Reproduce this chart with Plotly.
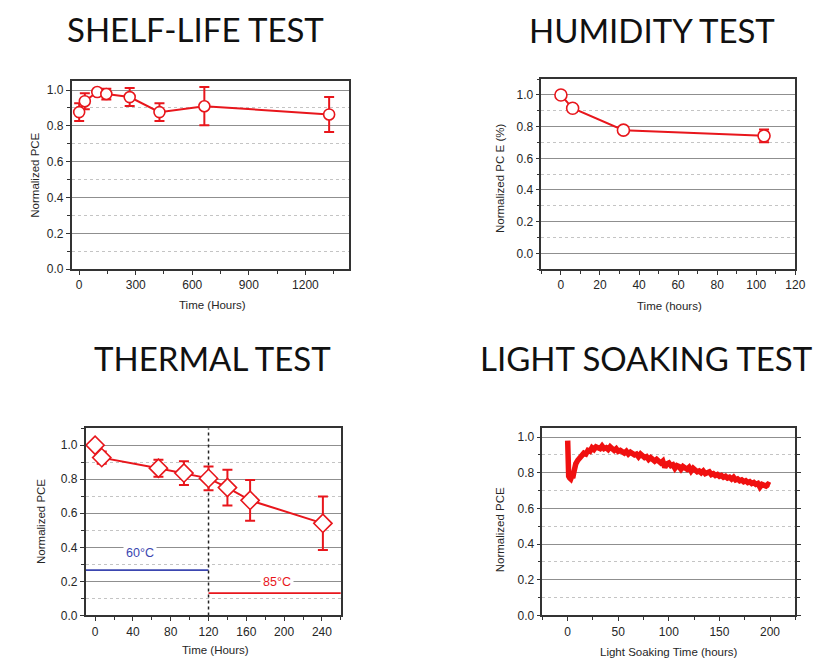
import plotly.graph_objects as go

RED = "#e8161c"
BLUE = "#3b46b0"
W, H = 830, 666

# ---- Shelf-life test ----
shelf_t = [0, 30, 96, 144, 268, 426, 664, 1326]
shelf_pce = [0.877, 0.938, 0.989, 0.978, 0.961, 0.877, 0.910, 0.864]
shelf_err = [0.050, 0.045, 0.012, 0.030, 0.050, 0.050, 0.107, 0.098]

# ---- Humidity test ----
hum_t = [0, 6, 32, 104]
hum_pce = [1.0, 0.916, 0.778, 0.742]
hum_err = [0.0, 0.020, 0.020, 0.040]

# ---- Thermal test ----
therm_t = [0, 7, 67, 94, 120, 140, 164, 241]
therm_pce = [1.0, 0.927, 0.865, 0.836, 0.805, 0.751, 0.676, 0.541]
therm_err = [0.012, 0.036, 0.050, 0.070, 0.070, 0.105, 0.120, 0.157]
therm_switch = 120          # hours at which the oven goes from 60 to 85 degC
zone60_x = [-10, 120]
zone60_y = [0.266, 0.266]
zone85_x = [120, 260]
zone85_y = [0.131, 0.131]

# ---- Light soaking test ----
soak_t = [0, 0.3, 1, 2, 3, 4, 5, 6, 7, 8, 10, 12, 14, 16, 18, 20, 22, 24, 26, 28,
          30, 32, 34, 36, 38, 40, 42, 44, 46, 48, 50, 52, 54, 56, 58, 60, 62, 64,
          66, 68, 70, 72, 74, 76, 78, 80, 82, 84, 86, 88, 90, 92, 94, 96, 98, 100,
          102, 104, 106, 108, 110, 112, 114, 116, 118, 120, 122, 124, 126, 128,
          130, 132, 134, 136, 138, 140, 142, 144, 146, 148, 150, 152, 154, 156,
          158, 160, 162, 164, 166, 168, 170, 172, 174, 176, 178, 180, 182, 184,
          186, 188, 190, 192, 194, 196, 198, 200]
soak_pce = [0.98, 0.80, 0.78, 0.77, 0.765, 0.78, 0.77, 0.80, 0.83, 0.85,
            0.87, 0.885, 0.89, 0.91, 0.905, 0.925, 0.92, 0.94, 0.93, 0.945,
            0.94, 0.935, 0.95, 0.935, 0.94, 0.93, 0.945, 0.93, 0.925, 0.935,
            0.92, 0.925, 0.92, 0.91, 0.92, 0.905, 0.915, 0.91, 0.90, 0.905,
            0.89, 0.905, 0.895, 0.885, 0.89, 0.875, 0.885, 0.87, 0.865, 0.875,
            0.86, 0.855, 0.865, 0.83, 0.85, 0.855, 0.84, 0.845, 0.825, 0.84,
            0.835, 0.82, 0.835, 0.825, 0.82, 0.83, 0.81, 0.825, 0.815, 0.805,
            0.81, 0.80, 0.81, 0.795, 0.80, 0.805, 0.79, 0.795, 0.785, 0.79,
            0.78, 0.785, 0.775, 0.78, 0.77, 0.775, 0.765, 0.775, 0.76, 0.765,
            0.755, 0.76, 0.75, 0.755, 0.745, 0.75, 0.74, 0.745, 0.735, 0.74,
            0.72, 0.735, 0.73, 0.725, 0.735, 0.73]

PCE_TICKS = [0.0, 0.2, 0.4, 0.6, 0.8, 1.0]


def dom_x(left, right):
    return [left / W, right / W]


def dom_y(top, bottom):
    return [1 - bottom / H, 1 - top / H]


AX_FONT = dict(family="Liberation Sans, Arial, sans-serif", size=12, color="#262626")


def x_axis(domain, rng, dtick, anchor):
    return dict(domain=domain, range=rng, dtick=dtick, tick0=0, anchor=anchor,
                showgrid=False, zeroline=False, showline=True, mirror=True,
                linecolor="#333", linewidth=1.5, ticks="outside", ticklen=4,
                tickcolor="#333", tickwidth=1.2, tickfont=AX_FONT,
                minor=dict(dtick=dtick / 2, tick0=0, ticks="outside", ticklen=3,
                           tickcolor="#333", tickwidth=1.2, showgrid=False))


def y_axis(domain, rng, anchor, mirror=True):
    return dict(domain=domain, range=rng, tickvals=PCE_TICKS, tickformat=".1f",
                anchor=anchor, showgrid=True, gridcolor="#8f8f8f", gridwidth=1.2,
                zeroline=False, showline=True, mirror=mirror, linecolor="#333",
                linewidth=1.5, ticks="outside", ticklen=4, tickcolor="#333",
                tickwidth=1.2, tickfont=AX_FONT,
                minor=dict(dtick=0.1, tick0=0, ticks="outside", ticklen=3,
                           tickcolor="#333", tickwidth=1.2, showgrid=True,
                           gridcolor="#c4c4c4", griddash="dot", gridwidth=1.2))


fig = go.Figure()

err_style = dict(type="data", color=RED, thickness=2, width=5)

fig.add_trace(go.Scatter(
    x=shelf_t, y=shelf_pce, mode="lines+markers", xaxis="x", yaxis="y",
    line=dict(color=RED, width=2),
    marker=dict(symbol="circle", size=11, color="white", line=dict(color=RED, width=1.6)),
    error_y=dict(array=shelf_err, **err_style)))

fig.add_trace(go.Scatter(
    x=hum_t, y=hum_pce, mode="lines+markers", xaxis="x2", yaxis="y2",
    line=dict(color=RED, width=2),
    marker=dict(symbol="circle", size=12, color="white", line=dict(color=RED, width=1.6)),
    error_y=dict(array=hum_err, **err_style)))

# thermal zones
fig.add_trace(go.Scatter(x=zone60_x, y=zone60_y, mode="lines", xaxis="x3", yaxis="y3",
                         line=dict(color=BLUE, width=1.6), hoverinfo="skip"))
fig.add_trace(go.Scatter(x=zone85_x, y=zone85_y, mode="lines", xaxis="x3", yaxis="y3",
                         line=dict(color=RED, width=1.6), hoverinfo="skip"))
fig.add_trace(go.Scatter(x=[therm_switch, therm_switch], y=[0, 1.1], mode="lines",
                         xaxis="x3", yaxis="y3",
                         line=dict(color="#222", width=1.5, dash="dot"), hoverinfo="skip"))

fig.add_trace(go.Scatter(
    x=therm_t, y=therm_pce, mode="lines+markers", xaxis="x3", yaxis="y3",
    line=dict(color=RED, width=2),
    marker=dict(symbol="diamond", size=14, color="white", line=dict(color=RED, width=1.6)),
    error_y=dict(array=therm_err, **err_style)))

fig.add_trace(go.Scatter(
    x=soak_t, y=soak_pce, mode="lines", xaxis="x4", yaxis="y4",
    line=dict(color="#f01010", width=5.5)))

fig.update_layout(
    width=W, height=H, margin=dict(l=0, r=0, t=0, b=0),
    paper_bgcolor="white", plot_bgcolor="white", showlegend=False,
    xaxis=x_axis(dom_x(72.5, 353), [-40, 1430], 300, "y"),
    yaxis=y_axis(dom_y(82, 272), [0, 1.05], "x"),
    xaxis2=x_axis(dom_x(548, 805), [-10, 120], 20, "y2"),
    yaxis2=y_axis(dom_y(80, 272), [-0.1, 1.1], "x2"),
    xaxis3=x_axis(dom_x(86.7, 345), [-10, 260], 40, "y3"),
    yaxis3=y_axis(dom_y(432.7, 622), [0, 1.1], "x3"),
    xaxis4=x_axis(dom_x(549, 805), [-25, 225], 50, "y4"),
    yaxis4=y_axis(dom_y(432.7, 622), [0, 1.05], "x4", mirror="allticks"),
)

TITLE_FONT = dict(family="Lato, Open Sans, sans-serif", size=33, color="#111")
LABEL_FONT = dict(family="Liberation Sans, Arial, sans-serif", size=11.5, color="#262626")

notes = [
    ("SHELF-LIFE TEST", 198, 29, TITLE_FONT, 0),
    ("HUMIDITY TEST", 660, 30, TITLE_FONT, 0),
    ("THERMAL TEST", 215, 362, TITLE_FONT, 0),
    ("LIGHT SOAKING TEST", 654, 362, TITLE_FONT, 0),
    ("Time (Hours)", 215, 308, LABEL_FONT, 0),
    ("Normalized PCE", 36, 177, LABEL_FONT, -90),
    ("Time (hours)", 678, 309, LABEL_FONT, 0),
    ("Normalized PC E (%)", 506, 180, LABEL_FONT, -90),
    ("Time (Hours)", 218, 657, LABEL_FONT, 0),
    ("Normalized PCE", 42, 527, LABEL_FONT, -90),
    ("Light Soaking Time (hours)", 677, 659, LABEL_FONT, 0),
    ("Normalized PCE", 506, 535, LABEL_FONT, -90),
]
for text, px, py, font, ang in notes:
    fig.add_annotation(text=text, x=px / W, y=1 - py / H, xref="paper", yref="paper",
                       showarrow=False, font=font, textangle=ang,
                       xanchor="center", yanchor="middle")

fig.add_annotation(text="60°C", x=48, y=0.365, xref="x3", yref="y3", showarrow=False,
                   font=dict(family="Liberation Sans, Arial, sans-serif", size=12.5, color=BLUE),
                   bgcolor="white", borderpad=2)
fig.add_annotation(text="85°C", x=192, y=0.197, xref="x3", yref="y3", showarrow=False,
                   font=dict(family="Liberation Sans, Arial, sans-serif", size=12.5, color=RED),
                   bgcolor="white", borderpad=2)

fig.write_html("out.html")
